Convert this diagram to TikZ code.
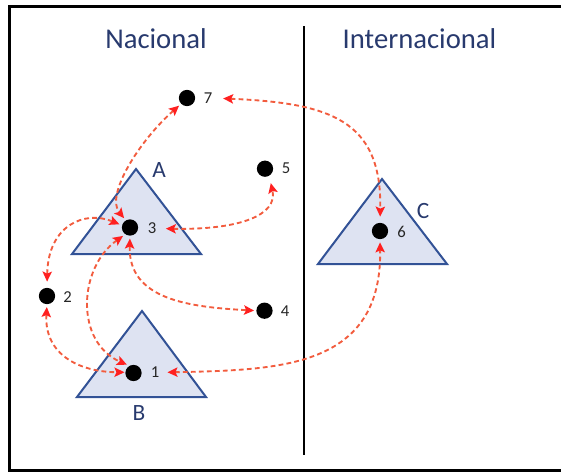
\documentclass[tikz,border=0pt]{standalone}
\usepackage{fontspec}
\setmainfont{Carlito}
\usetikzlibrary{arrows.meta}
\definecolor{navy}{RGB}{40,58,110}
\definecolor{triedge}{RGB}{50,82,150}
\definecolor{trifill}{RGB}{222,227,242}
\definecolor{dashred}{RGB}{242,92,62}
\definecolor{headred}{RGB}{255,32,32}
\begin{document}
\begin{tikzpicture}[x=0.75pt,y=-0.75pt,
  dot/.style={circle,fill=black,inner sep=0pt,minimum size=12.2pt},
  num/.style={font=\fontsize{12.5}{14}\selectfont,text=black!85,inner sep=0pt},
  tri/.style={draw=triedge,fill=trifill,line width=1.5pt,line join=miter},
  tlabel/.style={font=\fontsize{17.5}{19}\selectfont,text=navy,inner sep=0pt},
  sectitle/.style={font=\fontsize{21.5}{24}\selectfont,text=navy,inner sep=0pt,anchor=base},
  link/.style={draw=dashred,line width=1.4pt,dash pattern=on 3.6pt off 2.4pt,
    {Stealth[length=7.5pt,width=7pt,inset=1.5pt,color=headred]}-{Stealth[length=7.5pt,width=7pt,inset=1.5pt,color=headred]},
    shorten <=2pt,shorten >=2pt}]
\useasboundingbox (0,0) rectangle (561,472);
% frame and divider
\draw[line width=2.2pt] (9.5,6.5) rectangle (580,470.5);
\draw[line width=1.9pt] (304,26) -- (304,455);
% titles
\node[sectitle] (nac) at (156,48) {Nacional};
\node[sectitle] (int) at (419.5,48) {Internacional};
% triangles
\draw[tri] (136,169) -- (72,254) -- (201,254) -- cycle;
\draw[tri] (142,311) -- (77,397) -- (206,397) -- cycle;
\draw[tri] (382,179) -- (318,264) -- (447,264) -- cycle;
\node[tlabel] (la) at (159,170) {A};
\node[tlabel] (lb) at (139,413) {B};
\node[tlabel] (lc) at (423,211) {C};
% dots
\node[dot] (d1) at (133.5,373) {};
\node[dot] (d2) at (47,296) {};
\node[dot] (d3) at (130,227.5) {};
\node[dot] (d4) at (264.5,310.7) {};
\node[dot] (d5) at (265,168.7) {};
\node[dot] (d6) at (380,231) {};
\node[dot] (d7) at (187,98) {};
\node[num] (l1) at (155,372.5) {1};
\node[num] (l2) at (67.5,297) {2};
\node[num] (l3) at (152,228.5) {3};
\node[num] (l4) at (285,311.5) {4};
\node[num] (l5) at (286,168.5) {5};
\node[num] (l6) at (401.5,232) {6};
\node[num] (l7) at (208,98) {7};
% connectors
\draw[link] (d7.225) .. controls (140,140) and (105,195) .. (d3.120);
\draw[link,shorten <=8pt,shorten >=4.5pt] (l7.east) .. controls (330,103) and (382,120) .. (d6.north);
\draw[link,shorten <=7pt,shorten >=5.5pt] (l3.east) .. controls (240,230) and (278,215) .. (d5.-60);
\draw[link,shorten >=4.5pt] (d3.165) .. controls (85,210) and (48,225) .. (d2.north);
\draw[link,shorten >=1.5pt] (d3.south) .. controls (128,300) and (190,307) .. (d4.west);
\draw[link] (d3.235) .. controls (78,268) and (75,342) .. (d1.120);
\draw[link,shorten >=0.5pt] (d2.south) .. controls (44,355) and (80,372) .. (d1.175);
\draw[link,shorten <=6pt,shorten >=2.2pt] (l1.east) .. controls (280,370) and (382,368) .. (d6.south);
\end{tikzpicture}
\end{document}
